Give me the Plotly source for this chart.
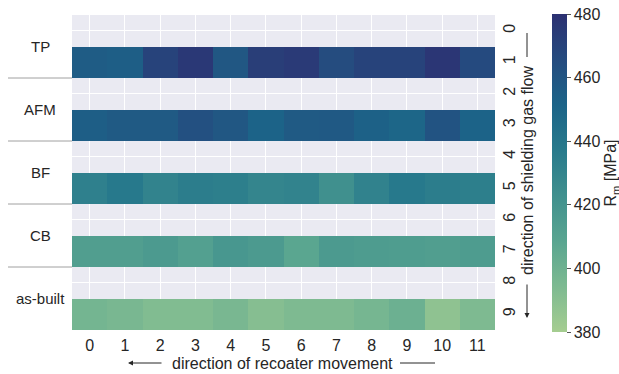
import plotly.graph_objects as go

# Ultimate tensile strength R_m [MPa] per specimen position (columns 0..11)
groups = ["TP", "AFM", "BF", "CB", "as-built"]
group_rows = [1, 3, 5, 7, 9]
tp = [456, 455, 470, 476, 459, 473, 475, 465, 470, 470, 477, 466]
afm = [455, 457, 457, 463, 459, 452, 457, 458, 453, 450, 461, 452]
bf = [433, 438, 431, 435, 434, 430, 431, 423, 432, 438, 435, 434]
cb = [413, 413, 416, 412, 418, 416, 408, 416, 415, 414, 413, 415]
as_built = [398, 396, 393, 393, 396, 391, 394, 394, 397, 401, 388, 394]
columns = list(range(12))
rows = list(range(10))

series = [tp, afm, bf, cb, as_built]
z = [[None] * len(columns) for _ in rows]
for r, vals in zip(group_rows, series):
    z[r] = vals

# seaborn "crest" colour map
crest = [
    [0.0, "#a5cd90"], [1 / 7, "#7dba91"], [2 / 7, "#59a590"], [3 / 7, "#40908e"],
    [4 / 7, "#287a8c"], [5 / 7, "#1c6488"], [6 / 7, "#254b7f"], [1.0, "#2c3172"],
]

TXT = "#262626"
FONT = "Liberation Sans, Arial, sans-serif"
FS = 16
W, H = 619, 374
L, R, T, B = 72, 124, 15, 44
PW, PH = W - L - R, H - T - B


def px_x(x):
    return (x - L) / PW


def px_y(y):
    return (H - B - y) / PH


fig = go.Figure(go.Heatmap(
    z=z, x=columns, y=rows,
    colorscale=crest, zmin=380, zmax=480,
    hoverongaps=False,
    colorbar=dict(
        xref="paper", x=px_x(552), xanchor="left", xpad=0,
        yref="paper", y=px_y(173), yanchor="middle", ypad=0,
        lenmode="pixels", len=318, thickness=15,
        outlinewidth=0, ticks="outside", ticklen=4, tickcolor="#555",
        tickvals=[380, 400, 420, 440, 460, 480],
        tickfont=dict(size=FS, color=TXT, family=FONT),
        title=dict(text="R<sub>m</sub> [MPa]", side="right",
                   font=dict(size=FS, color=TXT, family=FONT)),
    ),
))

fig.update_layout(
    width=W, height=H,
    margin=dict(l=L, r=R, t=T, b=B, autoexpand=False),
    paper_bgcolor="white", plot_bgcolor="#eaeaf2",
    font=dict(family=FONT, color=TXT, size=FS),
    showlegend=False,
)
fig.update_xaxes(
    range=[-0.5, 11.5], tickvals=columns, ticks="",
    showgrid=True, gridcolor="white", gridwidth=1,
    zeroline=False, showline=False, ticklabelstandoff=4,
    tickfont=dict(size=FS, color=TXT),
)
fig.update_yaxes(
    range=[9.5, -0.5], tickvals=rows, ticks="", side="right",
    tickangle=-90, showgrid=True, gridcolor="white", gridwidth=1,
    zeroline=False, showline=False, ticklabelstandoff=3,
    tickfont=dict(size=FS, color=TXT),
)

annotations = []
# group labels on the left
for name, r in zip(groups, group_rows):
    annotations.append(dict(
        text=name, xref="paper", x=px_x(40), xanchor="center",
        yref="y", y=r - 0.5, yanchor="middle", showarrow=False,
        font=dict(size=15, color=TXT),
    ))

# axis titles with direction arrows
annotations.append(dict(
    text="direction of recoater movement", xref="paper", x=px_x(282.5),
    yref="paper", y=px_y(363), xanchor="center", yanchor="middle",
    showarrow=False, font=dict(size=FS, color=TXT),
))
annotations.append(dict(
    text="", xref="paper", x=px_x(128), yref="paper", y=px_y(363),
    ax=35, ay=0, showarrow=True, arrowhead=2, arrowsize=1, arrowwidth=1,
    arrowcolor=TXT,
))
annotations.append(dict(
    text="direction of shielding gas flow", xref="paper", x=px_x(527),
    yref="paper", y=px_y(171), xanchor="center", yanchor="middle",
    textangle=-90, showarrow=False, font=dict(size=FS, color=TXT),
))
annotations.append(dict(
    text="", xref="paper", x=px_x(527), yref="paper", y=px_y(318),
    ax=0, ay=-35, showarrow=True, arrowhead=2, arrowsize=1, arrowwidth=1,
    arrowcolor=TXT,
))

shapes = []
for r in group_rows[:-1]:
    shapes.append(dict(
        type="line", xref="paper", x0=px_x(8), x1=0,
        yref="y", y0=r + 0.5, y1=r + 0.5,
        line=dict(color="#a0a0a0", width=1),
    ))
shapes.append(dict(
    type="line", xref="paper", x0=px_x(400), x1=px_x(435),
    yref="paper", y0=px_y(363), y1=px_y(363), line=dict(color=TXT, width=1),
))
shapes.append(dict(
    type="line", xref="paper", x0=px_x(527), x1=px_x(527),
    yref="paper", y0=px_y(57), y1=px_y(33), line=dict(color=TXT, width=1),
))

fig.update_layout(annotations=annotations, shapes=shapes)

fig.write_html("out.html")
